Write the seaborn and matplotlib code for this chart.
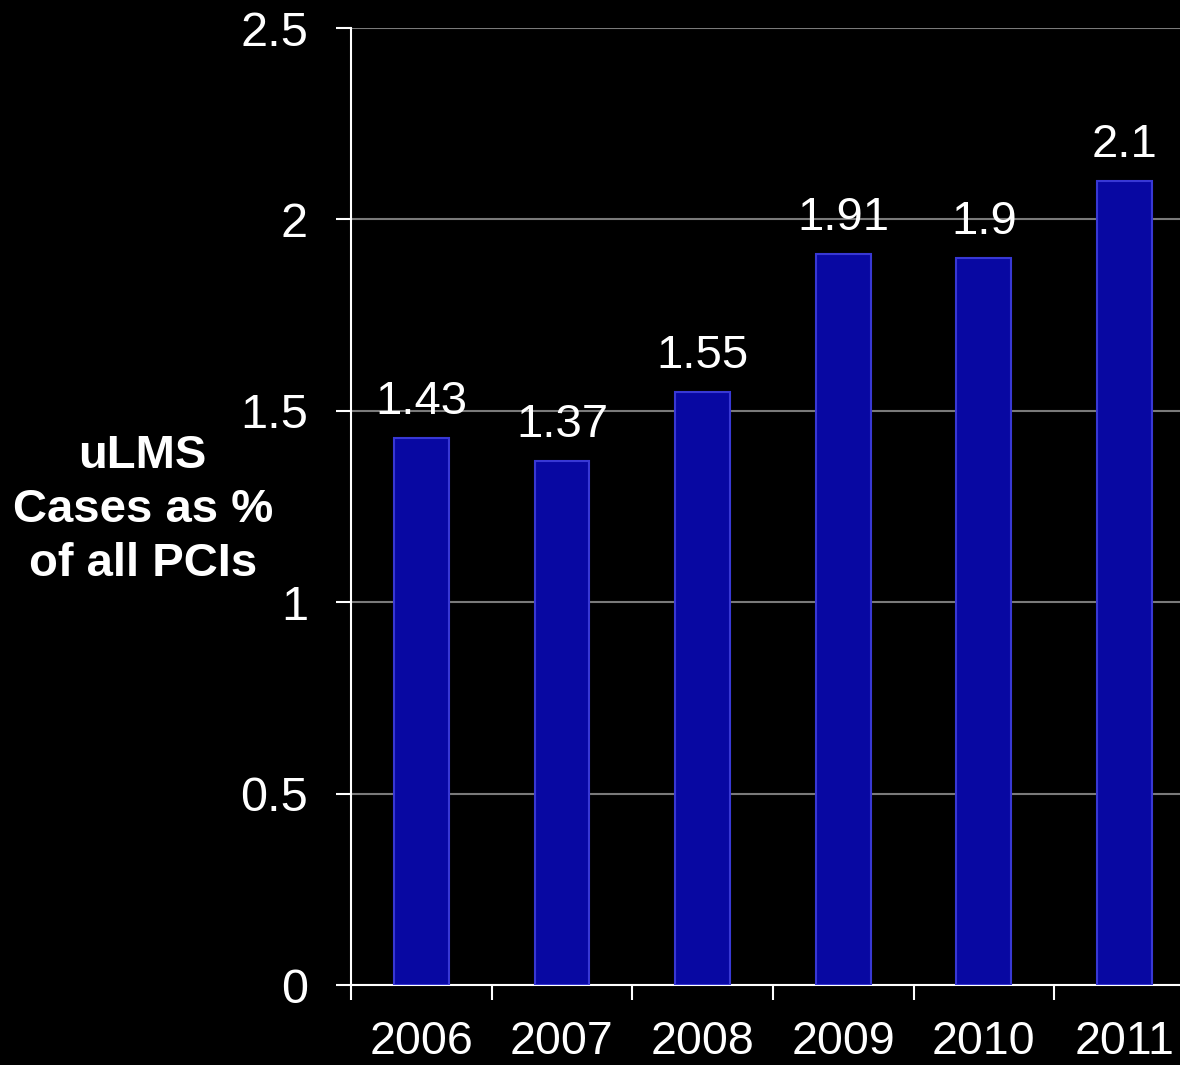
import matplotlib
matplotlib.use("Agg")
import matplotlib.pyplot as plt
import numpy as np
import pandas as pd
import seaborn as sns

years = ["2006", "2007", "2008", "2009", "2010", "2011"]
values = [1.43, 1.37, 1.55, 1.91, 1.90, 2.10]
value_labels = ["1.43", "1.37", "1.55", "1.91", "1.9", "2.1"]
y_ticks = [0, 0.5, 1, 1.5, 2, 2.5]
y_tick_labels = ["0", "0.5", "1", "1.5", "2", "2.5"]

sns.set_style("dark")
plt.rcParams["font.family"] = ["Liberation Sans", "DejaVu Sans"]

df = pd.DataFrame({"year": years, "value": values})

fig = plt.figure(figsize=(11.8, 10.65), dpi=100, facecolor="black")
ax = fig.add_axes([0.2975, 0.0751, 0.715, 0.8986])
ax.set_facecolor("black")

sns.barplot(data=df, x="year", y="value", color="#0808a2", saturation=1,
            width=0.39, edgecolor="#3838d4", linewidth=1.5, ax=ax, zorder=3)

ax.set_ylim(0, 2.5)
ax.set_xlim(-0.5, 5.5)
ax.set_yticks(y_ticks)
ax.set_yticklabels(y_tick_labels)
ax.yaxis.grid(True, color="#7a7a7a", linewidth=1.5, zorder=0)
ax.xaxis.grid(False)

# major ticks at category boundaries, labels centred under bars
ax.set_xticks(np.arange(-0.5, 5.5, 1.0))
ax.set_xticklabels([])
ax.set_xticks(np.arange(len(years)), minor=True)
ax.set_xticklabels(years, minor=True)
ax.tick_params(axis="x", which="major", direction="out", length=11, width=1.5,
               color="white", bottom=True)
ax.tick_params(axis="x", which="minor", length=0, pad=25, labelsize=33.5,
               labelcolor="white")
ax.tick_params(axis="y", direction="out", length=11, width=1.5, color="white",
               left=True, pad=20, labelsize=35, labelcolor="white")

for side in ["top", "right"]:
    ax.spines[side].set_visible(False)
for side in ["left", "bottom"]:
    ax.spines[side].set_visible(True)
    ax.spines[side].set_color("white")
    ax.spines[side].set_linewidth(1.5)

ax.bar_label(ax.containers[0], labels=value_labels, padding=10, fontsize=34,
             color="white")

ax.set_xlabel("")
ax.set_ylabel("")
fig.text(0.121, 0.521, "uLMS\nCases as %\nof all PCIs", ha="center", va="center",
         fontsize=34, fontweight="bold", color="white", linespacing=1.3)

fig.savefig("out.png", dpi=100, facecolor="black")
